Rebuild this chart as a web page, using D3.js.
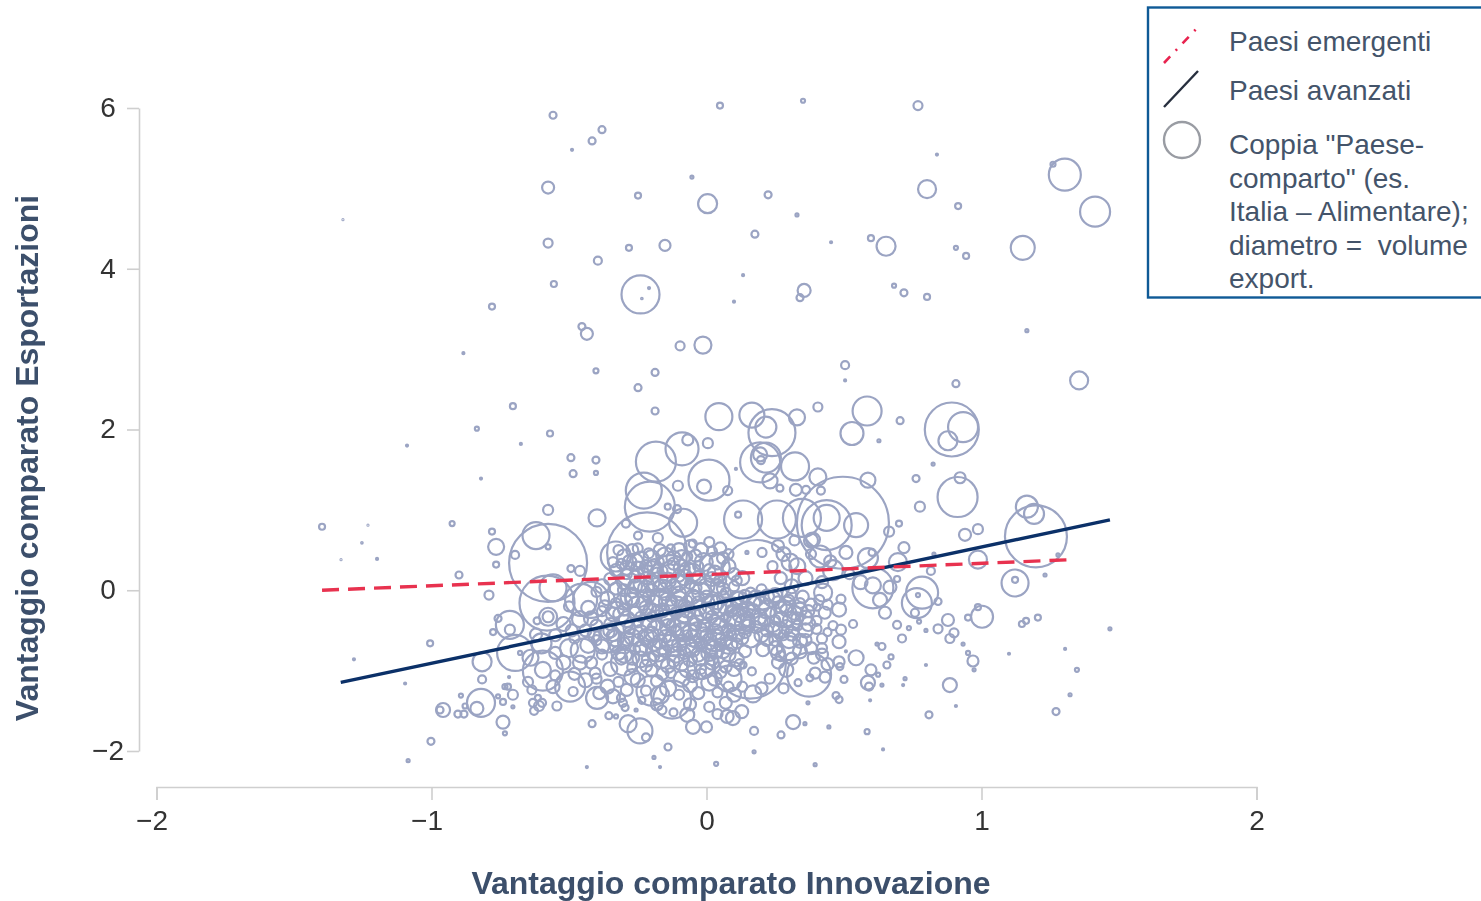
<!DOCTYPE html>
<html><head><meta charset="utf-8">
<script src="https://cdn.jsdelivr.net/npm/d3@7"></script>
<style>html,body{margin:0;padding:0;background:#fff;overflow:hidden}svg{display:block;filter:blur(0.4px)}
text{font-family:"Liberation Sans",Arial,sans-serif;white-space:pre}</style></head>
<body><svg id="c" width="1481" height="901"></svg>
<script>
// each row: [innovation advantage, export advantage, export volume]
const upperField=[[-0.558,5.91,7],[-0.38,5.73,7],[-0.416,5.59,7],[-0.489,5.48,2],[-0.053,5.14,3],[-0.576,5.01,12],[-0.249,4.91,6],[-1.322,4.61,1],[-0.576,4.32,9],[-0.282,4.26,6],[-0.151,4.29,11],[-0.395,4.10,8],[-0.555,3.81,6],[-0.24,3.68,38],[-0.209,3.76,2],[-0.235,3.63,1.5],[-0.78,3.53,6],[-0.453,3.28,7],[-0.435,3.19,12],[-0.096,3.04,9],[-0.013,3.05,17],[-0.884,2.95,2],[-0.402,2.73,5],[-0.187,2.71,7],[-0.249,2.52,7],[0.049,6.03,6],[0.351,6.09,4],[0.769,6.03,9],[0.838,5.42,2],[1.303,5.17,32],[1.26,5.30,5],[0.802,4.99,18],[1.413,4.71,30],[0.004,4.81,19],[0.224,4.92,7],[0.329,4.67,3],[0.915,4.78,6],[0.176,4.43,7],[0.453,4.33,2],[0.598,4.38,6],[0.653,4.28,19],[0.907,4.26,4],[0.944,4.16,6],[1.15,4.26,24],[0.133,3.92,2],[0.355,3.73,13],[0.34,3.64,7],[0.10,3.59,2],[0.682,3.79,4],[0.718,3.70,7],[0.802,3.65,6],[1.165,3.23,3],[0.504,2.80,8],[0.504,2.61,2],[0.907,2.57,7],[1.355,2.61,18]];
const midLeft=[[-0.187,2.23,7],[-0.704,2.29,6],[-0.835,2.01,4],[-0.569,1.95,6],[-0.675,1.82,2],[-0.493,1.65,7],[-0.402,1.62,7],[-0.82,1.39,2],[-0.485,1.45,7],[-0.402,1.46,4],[-0.925,0.83,5],[-0.576,1.0,10],[-0.398,0.90,17],[-0.78,0.73,6],[-0.765,0.54,16],[-0.765,0.32,6],[-0.9,0.19,7],[-0.62,0.68,27],[-0.576,0.54,5],[-0.696,0.44,8],[-0.576,0.34,78],[-0.493,0.27,7],[-0.46,0.24,10],[0.045,2.16,27],[-0.089,1.76,33],[-0.068,1.87,11],[0.005,1.83,10],[-0.184,1.60,40],[0.009,1.37,41],[-0.009,1.29,14],[0.077,1.24,9],[0.107,1.51,2],[-0.104,1.30,10],[-0.228,1.24,36],[-0.206,1.04,50],[-0.141,1.04,6],[-0.107,1.01,8],[-0.085,0.84,28],[-0.216,0.47,80],[-0.293,0.83,8],[-0.249,0.68,8],[-0.177,0.65,10]];
const midRight=[[0.405,2.28,9],[0.584,2.23,29],[0.704,2.11,7],[0.892,2.0,54],[0.933,2.03,30],[0.878,1.86,19],[0.529,1.95,23],[0.627,1.86,3],[0.165,2.18,25],[0.238,1.96,47],[0.216,2.03,21],[0.329,2.15,16],[0.195,1.59,40],[0.216,1.65,30],[0.195,1.69,14],[0.198,1.62,8],[0.322,1.54,28],[0.231,1.36,15],[0.405,1.41,17],[0.267,1.27,7],[0.325,1.25,12],[0.362,1.25,8],[0.416,1.24,8],[0.587,1.37,15],[0.824,1.57,3],[0.762,1.39,7],[0.922,1.40,11],[0.913,1.16,40],[0.776,1.04,10],[0.70,0.83,6],[0.94,0.69,12],[0.987,0.76,10],[0.496,0.84,92],[0.437,0.90,26],[0.437,0.81,50],[0.544,0.81,24],[0.347,0.90,38],[0.256,0.88,38],[0.133,0.88,38],[0.115,0.94,6],[0.664,0.73,10],[0.387,0.63,14],[0.507,0.47,13],[0.413,0.42,22],[0.304,0.35,17],[0.202,0.47,9],[0.147,0.47,3],[0.184,0.19,70],[0.587,0.40,20],[0.602,0.47,7],[0.696,0.35,18],[0.718,0.53,11],[0.987,0.38,18],[0.816,0.24,8],[0.827,0.45,3],[1.198,0.67,62],[1.165,1.04,22],[1.191,0.95,20],[0.46,0.25,20]];
const lowerRight=[[1.122,0.09,27],[1.122,0.13,6],[0.784,-0.03,32],[0.765,-0.16,30],[0.758,-0.28,8],[0.769,-0.06,4],[0.842,-0.14,7],[0.773,-0.39,4],[0.693,-0.43,8],[0.736,-0.47,4],[0.798,-0.50,3],[0.878,-0.37,12],[0.842,-0.48,9],[0.90,-0.53,9],[0.885,-0.60,9],[0.951,-0.34,6],[0.987,-0.21,6],[1.002,-0.33,22],[1.147,-0.42,6],[1.162,-0.38,6],[1.205,-0.34,6],[0.711,-0.60,8],[0.62,-0.67,3],[0.638,-0.70,7],[0.933,-0.67,3],[0.951,-0.78,4],[0.969,-0.88,11],[1.10,-0.79,2],[0.973,-0.99,3],[0.798,-0.93,2],[0.671,-0.83,5],[0.656,-0.93,7],[0.544,-0.84,15],[0.598,-0.99,11],[0.587,-1.15,14],[0.591,-1.20,8],[0.624,-1.05,4],[0.722,-1.10,3],[0.715,-1.18,2],[0.638,-1.18,3],[0.885,-1.18,14],[0.907,-1.44,2],[0.809,-1.55,7],[0.595,-1.37,2],[0.50,-1.11,7],[0.533,-0.42,8],[0.482,-0.24,14],[0.489,-0.11,9],[0.482,-0.64,13],[0.489,-0.49,10],[0.46,-0.44,9],[0.507,-0.76,2],[0.482,-0.89,11],[0.485,-0.95,7],[0.373,-1.05,44],[0.431,-1.08,11],[0.395,-1.03,11],[0.376,-1.09,7],[0.333,-1.15,7],[0.369,-1.40,3],[0.471,-1.31,7],[0.482,-1.36,7],[0.315,-1.64,14],[0.358,-1.66,3],[0.445,-1.70,3],[0.584,-1.76,5],[0.173,-1.75,8],[0.271,-1.80,7],[0.173,-2.01,3],[0.642,-1.98,2],[0.395,-2.17,3],[0.158,-0.90,72],[0.169,-1.29,17],[0.165,-1.01,8],[0.133,-0.93,7],[0.205,-0.74,13],[0.128,-1.51,13],[0.096,-1.59,14],[0.424,-0.03,18],[0.402,-0.21,7],[0.605,0.03,41],[0.605,0.06,16],[0.667,0.04,13],[0.631,-0.12,14],[0.649,-0.28,12],[0.693,0.14,6]];
const lowerLeft=[[-0.791,-0.06,9],[-0.58,-0.16,55],[-0.558,0.03,27],[-0.456,-0.12,32],[-0.576,-0.33,11],[-0.576,-0.33,18],[-0.616,-0.38,7],[-0.715,-0.43,28],[-0.715,-0.49,10],[-0.758,-0.35,7],[-0.776,-0.52,6],[-0.696,-0.78,36],[-0.816,-0.89,19],[-0.816,-1.11,8],[-0.678,-0.78,4],[-0.595,-0.99,16],[-0.595,-1.0,40],[-0.558,-1.20,13],[-0.649,-1.14,10],[-0.635,-1.24,9],[-0.496,-1.20,30],[-0.485,-1.26,9],[-0.405,-1.03,11],[-0.398,-1.34,22],[-0.544,-1.44,9],[-0.613,-1.34,6],[-0.631,-1.40,8],[-0.598,-1.40,8],[-0.627,-1.50,8],[-0.609,-1.44,10],[-0.82,-1.40,28],[-0.835,-1.47,13],[-0.704,-1.30,10],[-0.722,-1.20,6],[-0.733,-1.20,5],[-0.74,-1.39,6],[-0.758,-1.32,4],[-0.704,-1.45,3],[-0.893,-1.31,4],[-0.878,-1.44,5],[-0.904,-1.54,7],[-0.882,-1.54,7],[-0.958,-1.49,14],[-0.969,-1.49,7],[-0.74,-1.64,13],[-0.733,-1.78,4],[-0.718,-1.08,2],[-0.416,-1.66,7],[-0.355,-1.56,7],[-0.329,-1.57,4],[-0.256,-1.49,3],[-0.311,-1.34,8],[-0.304,-1.40,8],[-0.296,-1.46,7],[-0.235,-1.37,7],[-0.285,-1.66,17],[-0.242,-1.75,25],[-0.22,-1.83,8],[-0.14,-1.95,7],[-0.435,-2.20,2],[-0.191,-2.08,3],[-0.169,-2.20,2],[0.035,-2.16,4],[-0.049,-1.70,14],[0,-1.70,11],[-0.125,-1.36,38],[-0.169,-1.30,18],[-0.162,-1.49,9],[0.075,-1.57,13]];
const farOutliers=[[-1.002,-1.88,7],[-1.085,-2.12,3],[-1.096,-1.16,2],[-1.282,-0.86,2],[-1.005,-0.66,6],[-1.398,0.79,6],[-1.329,0.38,1],[-1.253,0.59,1.5],[-1.231,0.81,1],[-1.198,0.39,2],[-1.089,1.80,2],[1.304,-0.73,2],[1.347,-0.99,4],[1.322,-1.30,3],[1.467,-0.48,3],[1.271,-1.51,7],[1.231,0.19,3],[1.278,0.44,3]];
const coreLarge=[[-0.33,0.42,30],[-0.42,-0.12,36],[-0.36,-0.6,28],[-0.3,-0.9,26],[-0.2,-1.25,30],[-0.02,-0.93,28],[-0.13,0.2,38],[0.03,0.28,30],[0.12,-0.35,24],[-0.25,-0.05,26],[-0.08,-0.45,30],[0.28,-0.3,26],[0.3,-0.72,24],[-0.45,-0.75,24],[-0.18,-0.75,22],[0.08,-1.1,26],[0.03,-0.62,22]];
const coreUpper=[[-0.33,0.25,12],[-0.3,0.42,14],[-0.27,0.5,12],[-0.24,0.38,16],[-0.21,0.46,10],[-0.19,0.3,14],[-0.15,0.42,18],[-0.12,0.33,12],[-0.1,0.5,14],[-0.07,0.25,16],[-0.04,0.43,12],[-0.01,0.35,18],[0.02,0.48,10],[0.03,0.22,14],[-0.29,0.2,10],[-0.25,0.27,14],[-0.22,0.15,12],[-0.18,0.22,10],[-0.14,0.12,16],[-0.1,0.18,12],[-0.06,0.08,10],[-0.03,0.15,14],[0.0,0.05,16],[0.05,0.12,12],[0.08,0.3,14],[0.1,0.05,10],[0.13,0.15,14],[-0.31,0.33,10],[-0.26,0.05,14],[-0.17,0.36,8],[0.06,0.4,12],[0.01,0.6,10],[-0.05,0.58,8]];
const coreBandA=[[-0.4,-0.02,10],[-0.36,-0.1,14],[-0.33,0.02,12],[-0.3,-0.14,16],[-0.27,-0.03,10],[-0.23,-0.16,14],[-0.2,0.0,12],[-0.17,-0.09,18],[-0.13,-0.2,12],[-0.1,-0.04,14],[-0.07,-0.13,10],[-0.03,-0.22,16],[0.0,-0.08,12],[0.04,-0.15,14],[0.07,-0.03,10],[0.1,-0.19,16],[0.14,-0.07,12],[0.17,-0.16,14],[0.2,0.01,10],[0.24,-0.11,16],[0.27,-0.21,12],[0.3,-0.05,14],[0.34,-0.16,10],[0.37,-0.26,12],[0.41,-0.12,10]];
const coreBandB=[[-0.42,-0.35,14],[-0.38,-0.26,10],[-0.35,-0.42,12],[-0.31,-0.3,16],[-0.28,-0.47,12],[-0.24,-0.33,10],[-0.21,-0.43,16],[-0.18,-0.27,12],[-0.14,-0.38,14],[-0.11,-0.5,10],[-0.08,-0.3,16],[-0.04,-0.42,12],[-0.01,-0.55,14],[0.02,-0.33,12],[0.05,-0.45,16],[0.09,-0.56,10],[0.12,-0.31,14],[0.15,-0.44,12],[0.19,-0.33,16],[0.22,-0.5,12],[0.25,-0.37,10],[0.29,-0.46,14],[0.33,-0.35,12],[0.36,-0.5,14],[0.4,-0.38,10],[0.44,-0.52,8]];
const coreBandC=[[-0.4,-0.62,10],[-0.36,-0.52,14],[-0.33,-0.7,12],[-0.29,-0.6,14],[-0.26,-0.74,10],[-0.22,-0.58,16],[-0.19,-0.68,12],[-0.15,-0.57,12],[-0.12,-0.72,16],[-0.09,-0.62,10],[-0.05,-0.74,14],[-0.02,-0.66,12],[0.01,-0.78,16],[0.05,-0.68,12],[0.08,-0.8,14],[0.11,-0.66,10],[0.25,-0.62,12],[0.28,-0.56,10],[0.34,-0.63,14],[0.38,-0.72,12],[0.42,-0.6,10],[-0.44,-0.5,12],[-0.48,-0.6,10]];
const coreBandD=[[-0.42,-0.9,12],[-0.38,-0.8,10],[-0.35,-0.98,14],[-0.31,-0.85,12],[-0.27,-0.96,10],[-0.24,-0.86,16],[-0.2,-1.0,12],[-0.16,-0.88,14],[-0.13,-1.03,10],[-0.09,-0.9,16],[-0.05,-1.07,12],[-0.02,-0.98,10],[0.02,-0.9,14],[0.05,-1.02,12],[0.26,-0.9,12],[0.29,-0.99,14],[0.23,-1.1,10],[0.42,-0.8,12],[0.12,-0.92,10],[0.1,-0.98,14]];
const coreBandE=[[-0.4,-1.1,10],[-0.36,-1.2,14],[-0.32,-1.14,10],[-0.29,-1.24,12],[-0.25,-1.12,14],[-0.22,-1.25,10],[-0.18,-1.13,12],[-0.14,-1.22,16],[-0.1,-1.3,10],[-0.06,-1.18,14],[-0.03,-1.28,12],[0.01,-1.15,16],[0.04,-1.27,10],[0.07,-1.4,12],[0.1,-1.3,14],[0.01,-1.45,10],[-0.06,-1.42,12],[-0.12,-1.52,8],[0.13,-1.2,10]];
const fillUpper=[[-0.32,0.5,10],[-0.28,0.35,14],[-0.25,0.52,10],[-0.22,0.3,12],[-0.2,0.4,16],[-0.17,0.5,12],[-0.16,0.24,10],[-0.13,0.52,8],[-0.12,0.4,14],[-0.09,0.28,16],[-0.07,0.42,10],[-0.06,0.55,12],[-0.03,0.3,10],[-0.02,0.5,14],[0.01,0.25,12],[0.04,0.36,16],[0.05,0.52,12],[0.08,0.45,10],[0.1,0.2,12],[-0.3,0.1,14],[-0.26,0.17,12],[-0.24,0.08,14],[-0.2,0.1,16],[-0.17,0.05,12],[-0.12,0.05,14],[-0.08,0.16,16],[-0.04,0.03,12],[0.02,0.14,14],[0.06,0.02,12],[0.11,0.12,10],[-0.34,0.35,10],[-0.35,0.14,12],[-0.38,0.05,14],[-0.3,0.0,12],[-0.23,0.22,10],[-0.16,0.15,10],[0.28,0.45,14],[0.33,0.3,16],[0.38,0.45,10],[0.36,0.15,14],[0.42,0.1,12],[0.27,0.15,12],[0.31,0.05,14],[0.24,0.3,10],[0.45,0.36,12],[0.52,0.2,10],[0.56,0.1,14],[0.38,0.62,14],[0.32,0.62,10],[0.26,0.55,12]];
const fillMid=[[-0.37,-0.2,12],[-0.34,-0.3,14],[-0.33,-0.16,10],[-0.3,-0.24,12],[-0.29,-0.36,16],[-0.27,-0.12,14],[-0.26,-0.28,12],[-0.25,-0.4,10],[-0.22,-0.22,14],[-0.21,-0.08,12],[-0.2,-0.33,10],[-0.19,-0.16,16],[-0.18,-0.42,12],[-0.16,-0.25,14],[-0.15,-0.05,12],[-0.15,-0.34,16],[-0.13,-0.13,10],[-0.12,-0.44,14],[-0.11,-0.28,12],[-0.1,-0.11,16],[-0.09,-0.38,14],[-0.08,-0.19,12],[-0.06,-0.5,14],[-0.06,-0.28,10],[-0.05,-0.08,14],[-0.04,-0.34,16],[-0.03,-0.15,12],[-0.01,-0.44,12],[0.0,-0.26,14],[0.01,-0.14,10],[0.03,-0.52,16],[0.03,-0.38,12],[0.05,-0.24,14],[0.06,-0.09,12],[0.07,-0.34,10],[0.08,-0.5,14],[0.09,-0.26,12],[0.1,-0.41,16],[0.11,-0.1,14],[0.13,-0.24,12],[0.14,-0.52,12],[0.15,-0.36,14],[0.16,-0.03,10],[0.17,-0.26,14],[0.18,-0.46,12],[0.2,-0.18,16],[0.21,-0.38,12],[0.22,-0.08,14],[0.23,-0.28,10],[0.25,-0.48,14],[0.26,-0.15,12],[0.27,-0.36,14],[0.29,-0.25,12],[0.3,-0.12,10],[0.31,-0.54,14],[0.32,-0.28,14],[0.33,-0.44,10],[0.35,-0.08,12],[0.36,-0.34,14],[0.38,-0.18,12],[0.4,-0.48,10],[0.43,-0.28,12],[0.44,-0.18,10],[-0.4,-0.44,12],[-0.43,-0.22,14],[-0.46,-0.36,16],[-0.49,-0.5,12],[-0.52,-0.42,14],[-0.55,-0.56,12],[-0.5,-0.2,10]];
const fillLower=[[-0.34,-0.56,12],[-0.32,-0.78,14],[-0.3,-0.66,12],[-0.28,-0.52,10],[-0.27,-0.84,14],[-0.25,-0.62,12],[-0.23,-0.72,16],[-0.22,-0.94,12],[-0.2,-0.54,14],[-0.19,-0.82,10],[-0.17,-0.64,14],[-0.16,-1.04,12],[-0.15,-0.76,12],[-0.13,-0.6,14],[-0.12,-0.88,12],[-0.1,-0.68,14],[-0.09,-1.1,16],[-0.08,-0.78,12],[-0.07,-0.56,10],[-0.06,-0.86,14],[-0.04,-0.64,12],[-0.03,-0.8,14],[-0.02,-1.04,10],[0.0,-0.56,12],[0.0,-0.72,10],[0.02,-0.86,12],[0.03,-1.1,14],[0.05,-0.6,10],[0.06,-0.76,14],[0.07,-0.95,12],[0.08,-1.2,10],[0.09,-0.68,12],[0.11,-0.86,14],[0.13,-0.6,12],[0.14,-0.76,12],[0.25,-0.72,14],[0.22,-0.62,12],[0.27,-0.82,10],[0.31,-0.85,12],[0.34,-0.76,14],[0.36,-0.62,12],[0.39,-0.84,12],[0.42,-0.72,10],[0.44,-0.92,12],[-0.38,-0.7,14],[-0.41,-0.56,12],[-0.43,-0.68,16],[-0.46,-0.9,14],[-0.5,-0.72,18],[-0.52,-0.9,14],[-0.48,-1.04,12],[-0.44,-1.12,14],[-0.55,-0.78,12],[-0.39,-1.28,12],[-0.34,-1.32,14],[-0.27,-1.08,16],[-0.18,-1.42,12],[-0.07,-1.55,14],[0.04,-1.54,10],[0.2,-1.22,12],[0.28,-1.22,10],[-0.6,-0.66,20],[-0.64,-0.84,16],[-0.55,-1.06,10],[-0.62,-0.55,12]];
const denseCore=[[-0.3,-0.42,18],[-0.27,-0.58,16],[-0.25,-0.2,20],[-0.24,-0.52,14],[-0.21,-0.6,18],[-0.2,-0.26,16],[-0.18,-0.5,20],[-0.17,-0.72,16],[-0.14,-0.14,18],[-0.14,-0.46,16],[-0.13,-0.66,18],[-0.11,-0.2,20],[-0.11,-0.8,16],[-0.09,-0.52,18],[-0.07,-0.24,16],[-0.07,-0.7,20],[-0.05,-0.6,16],[-0.04,-0.12,18],[-0.03,-0.52,20],[-0.02,-0.84,16],[-0.01,-0.3,18],[0.01,-0.64,16],[0.02,-0.18,20],[0.03,-0.74,18],[0.04,-0.44,16],[0.06,-0.58,20],[0.07,-0.2,16],[0.08,-0.68,18],[0.1,-0.32,20],[0.11,-0.54,16],[0.12,-0.13,18],[0.14,-0.42,20],[0.15,-0.24,16],[0.16,-0.6,18],[0.18,-0.1,16],[0.19,-0.4,18],[0.2,-0.56,14],[0.22,-0.24,18],[0.24,-0.42,16],[0.25,-0.06,14],[0.27,-0.5,16],[0.29,-0.18,16],[0.31,-0.38,18],[0.34,-0.24,14],[0.37,-0.42,14],[-0.33,-0.24,16],[-0.35,-0.5,14],[-0.28,-0.08,18],[-0.22,0.02,16],[-0.16,0.02,18],[-0.1,0.1,16],[-0.05,0.22,18],[-0.13,0.27,16],[-0.2,0.25,18],[-0.26,0.36,16],[-0.02,-0.02,18],[0.04,0.05,14],[-0.29,0.28,14],[-0.09,0.4,16],[-0.24,-0.72,14],[-0.3,-0.8,16],[-0.14,-0.94,14],[-0.07,-0.98,16],[0.0,-1.0,14],[-0.21,-0.86,14],[-0.33,-0.6,16],[0.3,-0.62,16],[0.26,-0.78,14]];
const lineX=[-1.33,1.467];
const advancedY=[-1.147,0.875];
const emergingX=[-1.398,1.322];
const emergingY=[0.0,0.38];
const xTicks=[-2,-1,0,1,2];
const yTicks=[-2,0,2,4,6];
const legendLabels=["Paesi emergenti","Paesi avanzati"];
const legendNote=['Coppia "Paese-','comparto" (es.','Italia – Alimentare);','diametro =  volume','export.'];

const bubbles=[].concat(coreLarge,midLeft,midRight,upperField,lowerRight,lowerLeft,farOutliers,coreUpper,coreBandA,coreBandB,coreBandC,coreBandD,coreBandE,fillUpper,fillMid,fillLower,denseCore);
const svg=d3.select("#c");
const x=d3.scaleLinear().domain([-2,2]).range([156.5,1256.5]);
const y=d3.scaleLinear().domain([-2,6]).range([751,108]);
const r=d3.scaleLinear().domain([0,100]).range([0,50]);
const BLUE="#9ba4c3", AX="#cfcfcf", fmt=d3.format("d");

const gx=svg.append("g").attr("transform","translate(0,787)").call(d3.axisBottom(x).tickValues(xTicks).tickFormat(fmt).tickSize(13).tickSizeOuter(13).tickPadding(10));
const gy=svg.append("g").attr("transform","translate(139,0)").call(d3.axisLeft(y).tickValues(yTicks).tickFormat(fmt).tickSize(12).tickSizeOuter(0).tickPadding(12));
[gx,gy].forEach(g=>{g.selectAll("path,line").attr("stroke",AX).attr("stroke-width",1.6);
  g.selectAll("text").attr("fill","#333").style("font-size","28px").style("font-family",'"Liberation Sans",Arial,sans-serif');});
gx.selectAll(".tick text").attr("dx",d=>d<0?-5:0);
gy.selectAll(".tick text").attr("text-anchor","middle").attr("x",-31).attr("dy","0.3em");

svg.append("g").attr("fill","none").attr("stroke",BLUE).attr("stroke-width",2.2)
  .selectAll("circle").data(bubbles).join("circle")
  .attr("cx",d=>x(d[0])).attr("cy",d=>y(d[1])).attr("r",d=>r(d[2]));

const line=d3.line().x(d=>x(d[0])).y(d=>y(d[1]));
svg.append("path").attr("d",line(d3.zip(lineX,advancedY))).attr("fill","none").attr("stroke","#0b3068").attr("stroke-width",3.4);
svg.append("path").attr("d",line(d3.zip(emergingX,emergingY))).attr("fill","none").attr("stroke","#e8324f").attr("stroke-width",3.4).attr("stroke-dasharray","17 9");

svg.append("text").attr("x",731).attr("y",894).attr("text-anchor","middle").attr("font-weight","bold").attr("font-size",32).attr("fill","#3c4f6b").text("Vantaggio comparato Innovazione");
svg.append("text").attr("transform","translate(38,458) rotate(-90)").attr("text-anchor","middle").attr("font-weight","bold").attr("font-size",32).attr("fill","#3c4f6b").text("Vantaggio comparato Esportazioni");

const lg=svg.append("g");
lg.append("rect").attr("x",1148).attr("y",7.5).attr("width",340).attr("height",290).attr("fill","#fff").attr("stroke","#0f5a96").attr("stroke-width",2.4);
lg.append("line").attr("x1",1164).attr("y1",63).attr("x2",1198).attr("y2",27).attr("stroke","#e8234f").attr("stroke-width",2.6).attr("stroke-dasharray","9 8 2 8");
lg.append("line").attr("x1",1164).attr("y1",107).attr("x2",1198).attr("y2",71).attr("stroke","#272f3e").attr("stroke-width",2.4);
lg.append("circle").attr("cx",1182).attr("cy",140).attr("r",18).attr("fill","none").attr("stroke","#999ca3").attr("stroke-width",2.4);
const T=(s,yy)=>lg.append("text").attr("x",1229).attr("y",yy).attr("font-size",28).attr("fill","#44546a").text(s);
T(legendLabels[0],51);T(legendLabels[1],100);
legendNote.forEach((s,i)=>T(s,154+i*33.6));
</script></body></html>
